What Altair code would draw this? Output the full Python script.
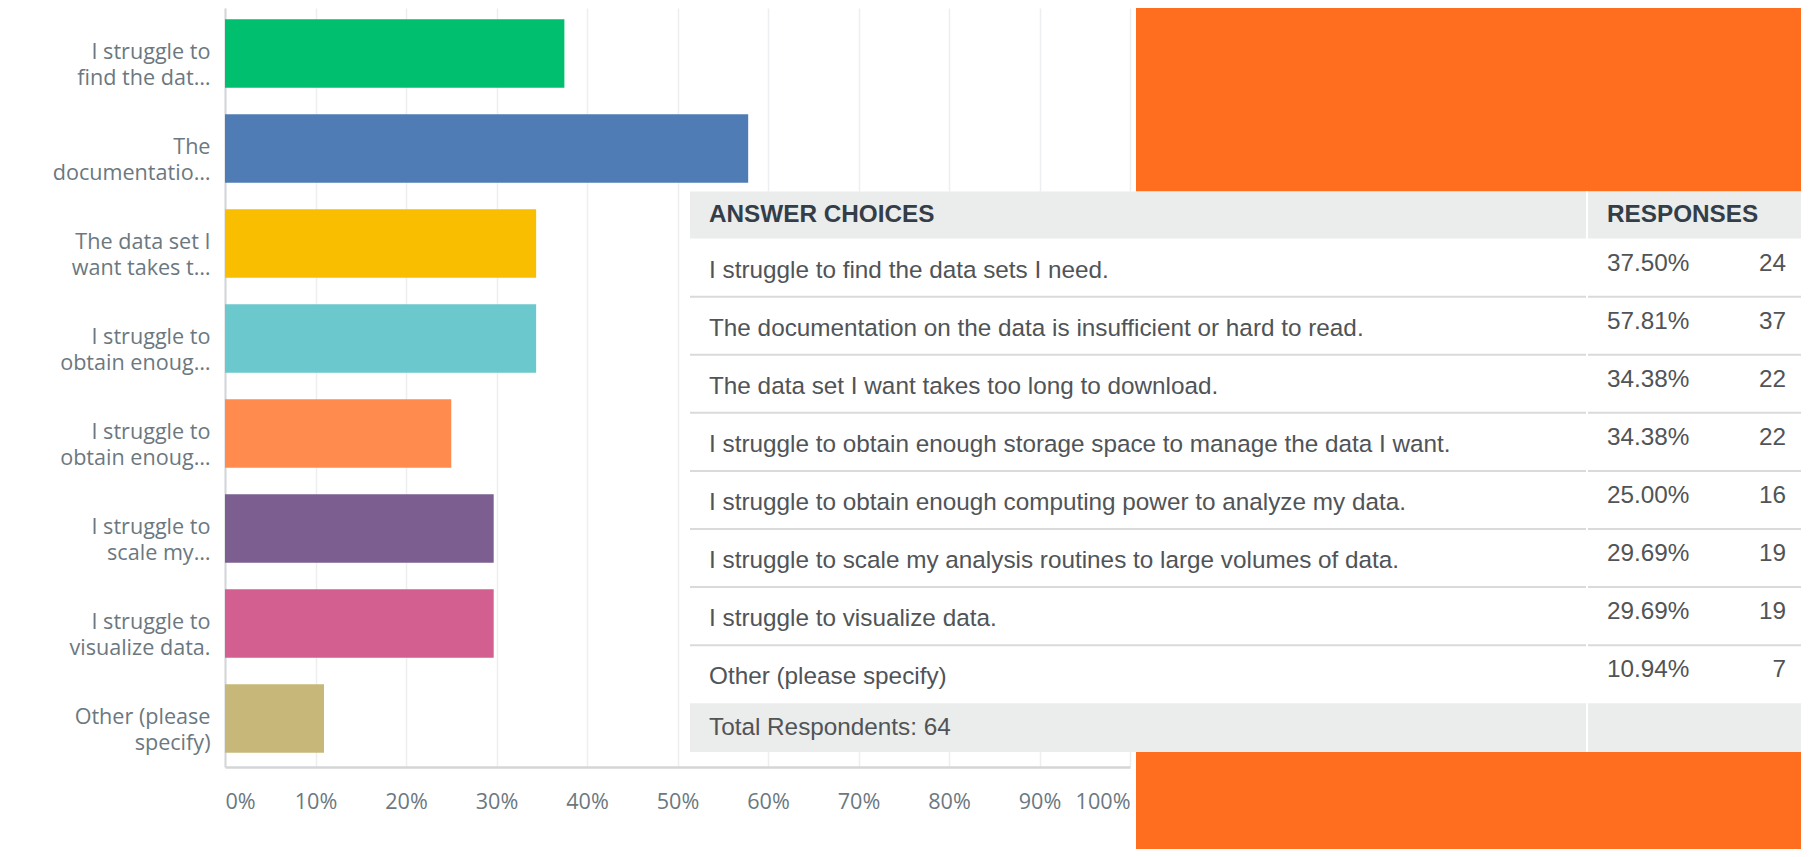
import json
import altair as alt
import pandas as pd

# ---------------- data ----------------
answers = [
    "I struggle to find the data sets I need.",
    "The documentation on the data is insufficient or hard to read.",
    "The data set I want takes too long to download.",
    "I struggle to obtain enough storage space to manage the data I want.",
    "I struggle to obtain enough computing power to analyze my data.",
    "I struggle to scale my analysis routines to large volumes of data.",
    "I struggle to visualize data.",
    "Other (please specify)",
]
label_line1 = ["I struggle to", "The", "The data set I", "I struggle to",
               "I struggle to", "I struggle to", "I struggle to", "Other (please"]
label_line2 = ["find the dat\u2026", "documentatio\u2026", "want takes t\u2026", "obtain enoug\u2026",
               "obtain enoug\u2026", "scale my\u2026", "visualize data.", "specify)"]
pcts = [37.50, 57.81, 34.38, 34.38, 25.00, 29.69, 29.69, 10.94]
counts = [24, 37, 22, 22, 16, 19, 19, 7]
bar_colors = ["#00BF6F", "#507CB6", "#F9BE00", "#6BC8CD",
              "#FF8B4F", "#7D5E90", "#D25F90", "#C7B879"]
x_ticks = [0.0, 0.1, 0.2, 0.3, 0.4, 0.5, 0.6, 0.7, 0.8, 0.9, 1.0]
total_respondents = 64
header_left = "ANSWER CHOICES"
header_right = "RESPONSES"
footer_text = f"Total Respondents: {total_respondents}"

df = pd.DataFrame({"answer": answers, "pct": pcts, "count": counts})
one = pd.DataFrame({"k": [0]})

# ---------------- styles ----------------
ORANGE = "#FF6D1F"
GREY_BG = "#EBECEC"
SEP = "#D8DADB"
AXIS_TXT = "#6B787F"
ROW_TXT = "#505457"
HEAD_TXT = "#333E48"
TFONT = "Liberation Sans"
CFONT = "Open Sans"
TSIZE = 24.3
CSIZE = 21.6

TOTAL_W, TOTAL_H = 1793, 841
PAD_L, PAD_T = 217, 0
W, H = 905, 759
label_map = json.dumps([[a, b] for a, b in zip(label_line1, label_line2)], ensure_ascii=False)
answer_list = json.dumps(answers, ensure_ascii=False)

# ---------------- orange backdrop (right side) ----------------
orange = alt.Chart(one).mark_rect(color=ORANGE).encode(
    x=alt.value(911), x2=alt.value(1600), y=alt.value(-10), y2=alt.value(860)
)

# ---------------- bar chart ----------------
bars = alt.Chart(df).transform_calculate(frac="datum.pct / 100").mark_bar().encode(
    x=alt.X(
        "frac:Q",
        scale=alt.Scale(domain=[0, 1], nice=False),
        axis=alt.Axis(
            values=x_ticks, format=".0%", title=None, grid=True,
            gridColor="#EDEEEF", gridWidth=1.5, domainColor="#D3D6D7", domainWidth=2.5,
            ticks=False, labelPadding=35, labelBaseline="middle",
            labelFont=CFONT, labelFontSize=CSIZE, labelColor=AXIS_TXT,
        ),
    ),
    y=alt.Y(
        "answer:N", sort=answers,
        scale=alt.Scale(paddingInner=0.28, paddingOuter=0.1347, align=0.44),
        axis=alt.Axis(
            title=None, ticks=False, grid=False, domainColor="#D3D6D7", domainWidth=2,
            labelPadding=15, labelFont=CFONT, labelFontSize=CSIZE, labelColor=AXIS_TXT,
            labelLineHeight=26, labelAlign="right", labelBaseline="middle", labelLimit=0,
            labelExpr=f"{label_map}[indexof({answer_list}, datum.label)]",
        ),
    ),
    color=alt.Color("answer:N", scale=alt.Scale(domain=answers, range=bar_colors), legend=None),
)

# ---------------- table ----------------
tscale = alt.Scale(domain=answers, range=[230.6, 695.2], paddingInner=0, paddingOuter=0)

def ty(band=None):
    if band is None:
        return alt.Y("answer:N", sort=answers, scale=tscale, axis=None)
    return alt.Y("answer:N", sort=answers, scale=tscale, axis=None, bandPosition=band)

table_box = alt.Chart(one).mark_rect(color="white").encode(
    x=alt.value(465), x2=alt.value(1580), y=alt.value(183.5), y2=alt.value(744.1)
)
header_bg = alt.Chart(one).mark_rect(color=GREY_BG).encode(
    x=alt.value(465), x2=alt.value(1580), y=alt.value(183.5), y2=alt.value(230.6)
)
footer_bg = alt.Chart(one).mark_rect(color=GREY_BG).encode(
    x=alt.value(465), x2=alt.value(1580), y=alt.value(695.2), y2=alt.value(744.1)
)
seps = alt.Chart(df).transform_filter(
    alt.datum.answer != answers[-1]
).mark_rule(color=SEP, strokeWidth=2).encode(
    x=alt.value(465), x2=alt.value(1580), y=ty(1)
)
divider = alt.Chart(one).mark_rule(color="white", strokeWidth=2).encode(
    x=alt.value(1362), y=alt.value(183.5), y2=alt.value(744.1)
)
head_l = alt.Chart(one).mark_text(
    align="left", baseline="middle", font=TFONT, fontSize=TSIZE, fontWeight="bold", color=HEAD_TXT
).encode(x=alt.value(484), y=alt.value(207.2), text=alt.value(header_left))
head_r = alt.Chart(one).mark_text(
    align="left", baseline="middle", font=TFONT, fontSize=TSIZE, fontWeight="bold", color=HEAD_TXT
).encode(x=alt.value(1382), y=alt.value(207.2), text=alt.value(header_right))
foot = alt.Chart(one).mark_text(
    align="left", baseline="middle", font=TFONT, fontSize=TSIZE, color=ROW_TXT
).encode(x=alt.value(484), y=alt.value(719.6), text=alt.value(footer_text))

row_txt = alt.Chart(df).mark_text(
    align="left", baseline="middle", font=TFONT, fontSize=TSIZE, color=ROW_TXT, dy=3
).encode(x=alt.value(484), y=ty(), text="answer:N")
pct_txt = alt.Chart(df).transform_calculate(
    plabel="format(datum.pct / 100, '.2%')"
).mark_text(
    align="left", baseline="middle", font=TFONT, fontSize=TSIZE, color=ROW_TXT, dy=-4
).encode(x=alt.value(1382), y=ty(), text="plabel:N")
cnt_txt = alt.Chart(df).mark_text(
    align="right", baseline="middle", font=TFONT, fontSize=TSIZE, color=ROW_TXT, dy=-4
).encode(x=alt.value(1561), y=ty(), text="count:Q")

chart = alt.layer(
    orange, bars, table_box, header_bg, footer_bg, seps, divider,
    head_l, head_r, foot, row_txt, pct_txt, cnt_txt,
).resolve_scale(y="independent").properties(
    width=W, height=H,
    padding={"left": PAD_L, "top": PAD_T, "right": TOTAL_W - PAD_L - W, "bottom": TOTAL_H - PAD_T - H},
    autosize=alt.AutoSizeParams(type="none"),
    background="white",
).configure_view(stroke=None)

chart.save("out.html", embed_options={"renderer": "svg", "actions": False})
